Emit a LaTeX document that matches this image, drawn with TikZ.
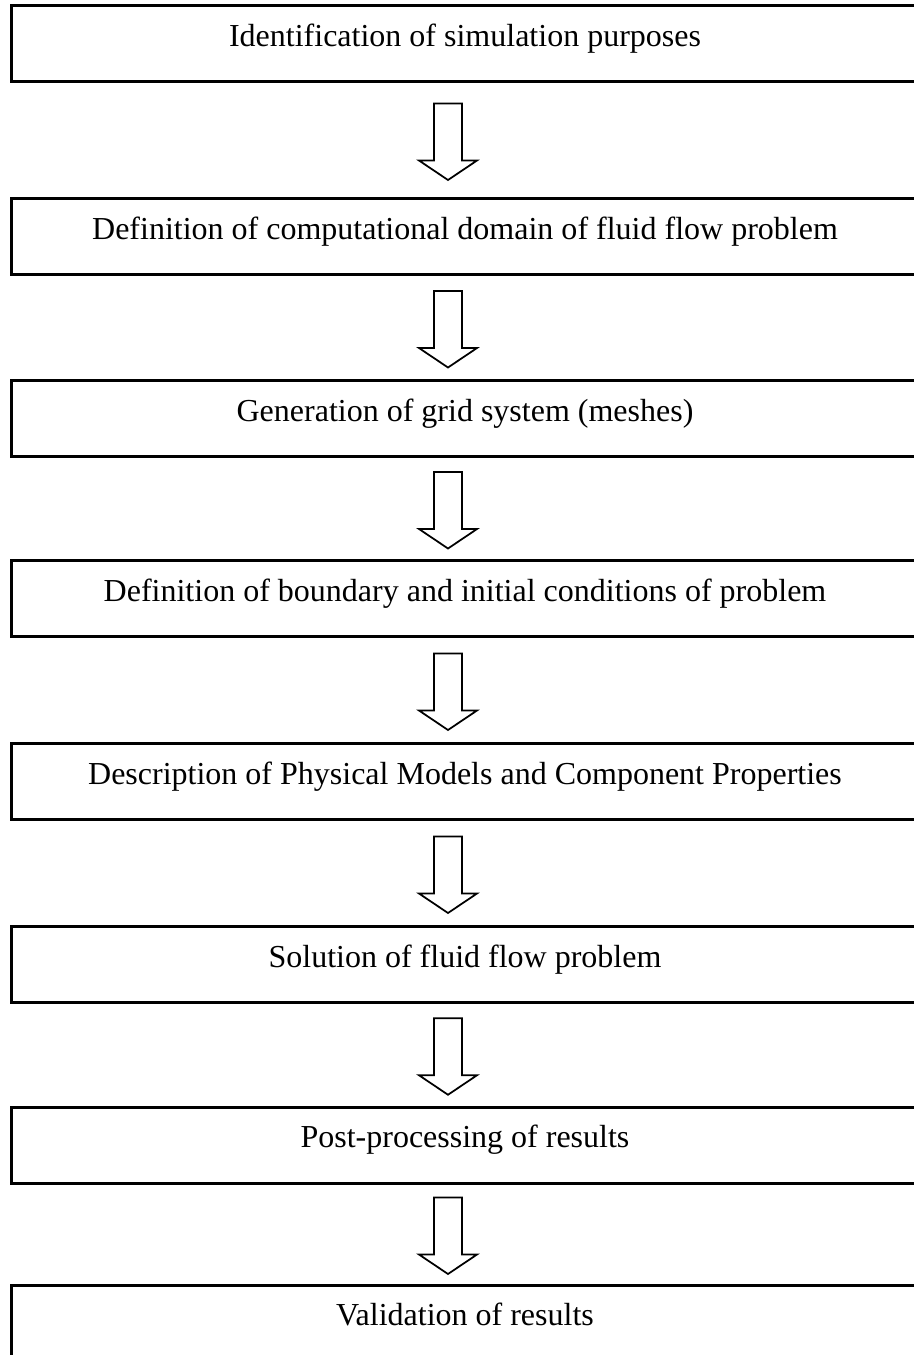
\documentclass[tikz,border=0pt]{standalone}
\usepackage{fontspec}
\setmainfont{Liberation Serif}
\usepackage{tikz}

\begin{document}
\begin{tikzpicture}[x=0.4pt, y=-0.4pt,
    stage/.style={draw, line width=1.2pt, rectangle, minimum width=362.4pt, minimum height=30.4pt,
        inner sep=0pt, outer sep=0pt, text height=6pt, text depth=4pt, font=\fontsize{12.8}{15}\selectfont},
    blockarrow/.style={draw, line width=0.7pt, line join=miter}]
    \useasboundingbox (0,0) rectangle (914,1355);
    \node[stage] (purpose)  at (465,43.5)  {Identification of simulation purposes};
    \node[stage] (domain)   at (465,236.5) {Definition of computational domain of fluid flow problem};
    \node[stage] (grid)     at (465,418.5) {Generation of grid system (meshes)};
    \node[stage] (boundary) at (465,598.5) {Definition of boundary and initial conditions of problem};
    \node[stage] (models)   at (465,781.5) {Description of Physical Models and Component Properties};
    \node[stage] (solution) at (465,964.5) {Solution of fluid flow problem};
    \node[stage] (post)     at (465,1145)  {Post-processing of results};
    \node[stage] (valid)    at (465,1323)  {Validation of results};
    \foreach \a/\b in {purpose/domain, domain/grid, grid/boundary, boundary/models,
                       models/solution, solution/post, post/valid} {
        \path (\a.south) -- (\b.north) coordinate[midway] (mid);
        \draw[blockarrow, shift={(mid)}] (-31,-36.5) -- (-3,-36.5) -- (-3,20.5) -- (12,20.5)
            -- (-17,40) -- (-46,20.5) -- (-31,20.5) -- cycle;
    }
\end{tikzpicture}
\end{document}
